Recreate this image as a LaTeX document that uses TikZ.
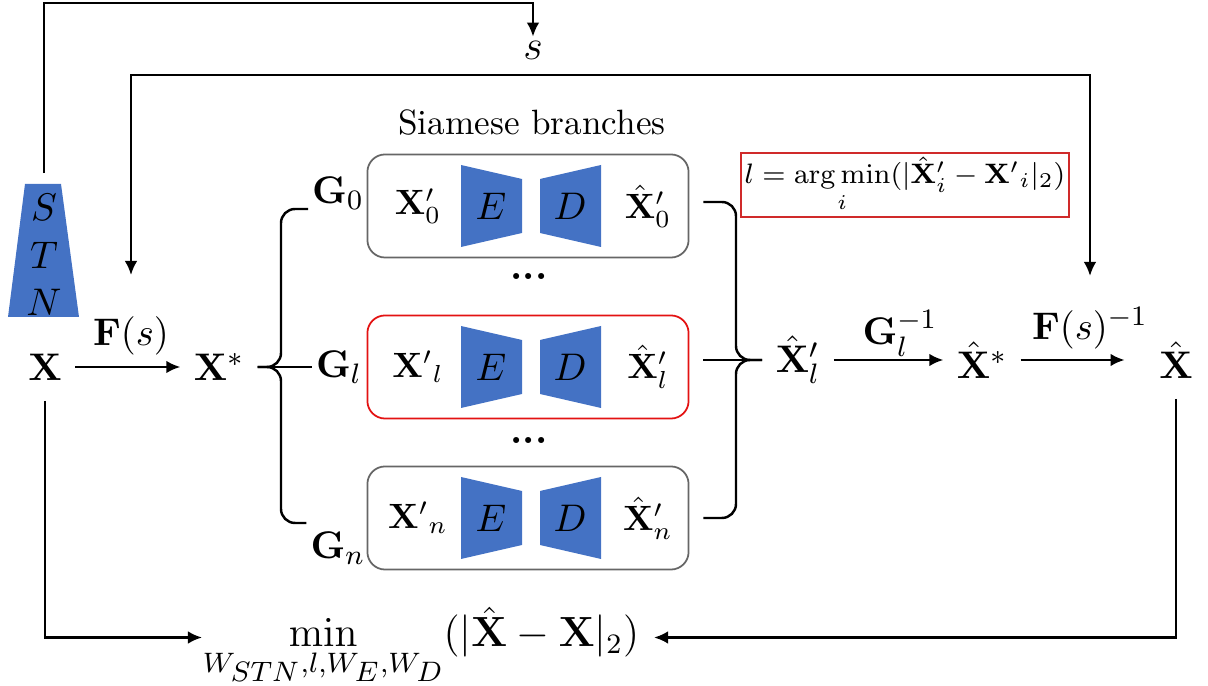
\documentclass[tikz,border=0pt,11pt]{standalone}
\usetikzlibrary{arrows.meta,calc}
\definecolor{blockblue}{HTML}{4472C4}
\definecolor{boxred}{HTML}{D02A2A}
\definecolor{branchred}{HTML}{E31212}

\begin{document}
\begin{tikzpicture}[
    x=0.01cm, y=-0.01cm,
    link/.style={line width=0.7pt},
    arrow/.style={link, -{Latex[length=4pt,width=3.6pt]}},
    branch/.style={
        rounded corners=5pt,
        line width=0.5pt,
        minimum width=3.21cm,
        minimum height=1.03cm,
    },
]
\useasboundingbox (0,0) rectangle (1208,686);

\fill[blockblue] (25,184) -- (61,184) -- (79,317) -- (8,317) -- cycle;
\node[minimum height=1.62cm, align=center, inner sep=0] (stn) at (44,255) {$S$\\$T$\\$N$};
\node[font=\large, inner sep=1pt] (s) at (533,50) {$s$};
\coordinate (railtop) at (300,3);
\coordinate (railmid) at (600,75);

\node[font=\small] (title) at (532,123) {Siamese branches};

\foreach \row/\yc/\edge/\xin/\xout in {
    0/206/black!60/{\mathbf{X}'_0}/{\hat{\mathbf{X}}'_0},
    l/367/branchred/{\mathbf{X}'{}_l}/{\hat{\mathbf{X}}'_l},
    n/518/black!60/{\mathbf{X}'{}_n}/{\hat{\mathbf{X}}'_n}} {
    \node[branch, draw=\edge] (box\row) at (528,\yc) {};
    \fill[blockblue] (461,\yc-41) -- (522,\yc-27) -- (522,\yc+27) -- (461,\yc+41) -- cycle;
    \fill[blockblue] (540,\yc-27) -- (601,\yc-41) -- (601,\yc+41) -- (540,\yc+27) -- cycle;
    \node (enc\row) at (491,\yc) {$E$};
    \node (dec\row) at (570,\yc) {$D$};
    \node[font=\small, inner sep=1pt] (in\row) at (418,\yc) {$\xin$};
    \node[font=\small, inner sep=1pt] (out\row) at (648,\yc) {$\xout$};
}

\node (dots1) at (529,277) {\textbf{...}};
\node (dots2) at (529,441) {\textbf{...}};

\node (x) at (45,367) {$\mathbf{X}$};
\node (xs) at (219,367) {$\mathbf{X}^*$};
\node (fs) at (131,336) {$\mathbf{F}(s)$};
\node[inner sep=1pt] (g0) at (338,193) {$\mathbf{G}_0$};
\node[inner sep=1pt] (gl) at (339,367) {$\mathbf{G}_l$};
\node[inner sep=1pt] (gn) at (338,548) {$\mathbf{G}_n$};

\node (xhl) at (798,360) {$\hat{\mathbf{X}}'_l$};
\node (xhs) at (982,360) {$\hat{\mathbf{X}}^*$};
\node (xh) at (1176,360) {$\hat{\mathbf{X}}$};
\node (glinv) at (900,333) {$\mathbf{G}_l^{-1}$};
\node (fsinv) at (1090,328) {$\mathbf{F}(s)^{-1}$};

\node[draw=boxred, line width=0.7pt, minimum width=3.26cm, minimum height=0.6cm, inner sep=1pt, font=\fontsize{8}{10}\selectfont] (argmin) at (905,185)
    {$l=\mathop{\arg\min}\limits_i(|\hat{\mathbf{X}}'_i-\mathbf{X}'{}_i|_2)$};

\node[anchor=base, inner sep=0, font=\large] (loss) at (421,647)
    {$\displaystyle\min_{W_{\scriptstyle STN},l,W_{\scriptstyle E},W_{\scriptstyle D}}(|\hat{\mathbf{X}}-\mathbf{X}|_2)$};

\draw[arrow] (stn.north) |- (railtop) -| (s.north);
\draw[link, {Latex[length=4pt,width=3.6pt]}-{Latex[length=4pt,width=3.6pt]}, shorten <=8pt, shorten >=5pt]
    (fs.north) |- (railmid) -| (fsinv.north);

\draw[arrow] (x) -- (xs);
\draw[link, rounded corners=4pt] ($(g0.west)+(0,16)$) -- (281,209) -- (281,367) -- (xs.east);
\draw[link, rounded corners=4pt] ($(gn.west)+(0,-25)$) -- (281,523) -- (281,367) -- (xs.east);
\draw[link] (xs.east) -- (gl.west);

\draw[link, rounded corners=4pt] ($(box0.east)+(14,-4)$) -- (736,202) -- (736,360) -- (xhl.west);
\draw[link, rounded corners=4pt] ($(boxn.east)+(14,0)$) -- (736,518) -- (736,360) -- (xhl.west);
\draw[link] ($(boxl.east)+(14,-7)$) -- (xhl.west);

\draw[arrow] (xhl) -- (xhs);
\draw[arrow, shorten >=6pt] (xhs) -- (xh);

\draw[arrow, shorten <=2pt] (x.south) |- ([yshift=2.7pt]loss.base west);
\draw[arrow, shorten <=2pt, shorten >=4pt] (xh.south) |- ([yshift=2.7pt]loss.base east);

\end{tikzpicture}
\end{document}
